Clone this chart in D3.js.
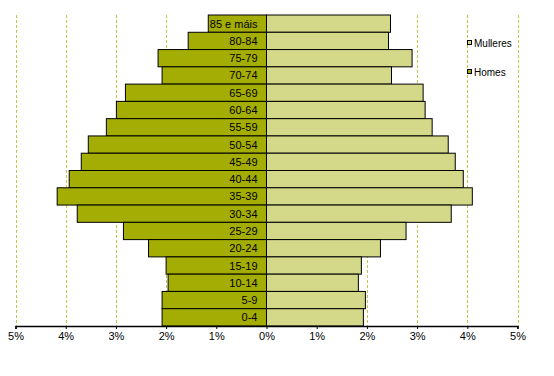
<!DOCTYPE html>
<html>
<head>
<meta charset="utf-8">
<script src="https://cdn.jsdelivr.net/npm/d3@7"></script>
<style>
  body { margin: 0; background: #fff; }
  svg { display: block; font-family: "Liberation Sans", Arial, sans-serif; }
</style>
</head>
<body>
<div id="chart"></div>
<script>
// grupos de idade, de arriba a abaixo
const ageGroups = ['85 e máis', '80-84', '75-79', '70-74', '65-69', '60-64', '55-59', '50-54',
  '45-49', '40-44', '35-39', '30-34', '25-29', '20-24', '15-19', '10-14', '5-9', '0-4'];

// porcentaxes
const homes = [1.16, 1.56, 2.16, 2.08, 2.81, 2.99, 3.19, 3.55, 3.69, 3.93, 4.17, 3.77, 2.85, 2.35, 2.00, 1.96, 2.08, 2.08];
const mulleres = [2.47, 2.43, 2.90, 2.49, 3.12, 3.16, 3.30, 3.62, 3.76, 3.92, 4.10, 3.68, 2.78, 2.27, 1.89, 1.83, 1.97, 1.93];

const tickValues = [-5, -4, -3, -2, -1, 0, 1, 2, 3, 4, 5];
const gridValues = [-5, -4, -3, -2, -1, 1, 2, 3, 4, 5];

const W = 554, H = 376;
const plotLeft = 15.5, plotRight = 517.5, plotTop = 15, plotBottom = 326;

const svg = d3.select('#chart').append('svg').attr('width', W).attr('height', H);

const x = d3.scaleLinear().domain([-5, 5]).range([plotLeft, plotRight]);
const y = d3.scaleBand().domain(ageGroups).range([plotTop, plotBottom]).padding(0);

// grella
svg.append('g')
  .selectAll('line')
  .data(gridValues)
  .enter()
  .append('line')
  .attr('x1', (d) => Math.round(x(d)) + 0.5)
  .attr('x2', (d) => Math.round(x(d)) + 0.5)
  .attr('y1', plotTop)
  .attr('y2', plotBottom)
  .attr('stroke', '#c3c84a')
  .attr('stroke-dasharray', '3,2');

// barras homes
svg.append('g')
  .selectAll('rect')
  .data(ageGroups)
  .enter()
  .append('rect')
  .attr('x', (d, i) => x(-homes[i]))
  .attr('y', (d) => y(d))
  .attr('width', (d, i) => x(0) - x(-homes[i]))
  .attr('height', y.bandwidth())
  .attr('fill', '#a4ad04')
  .attr('stroke', '#000')
  .attr('stroke-width', 1);

// barras mulleres
svg.append('g')
  .selectAll('rect')
  .data(ageGroups)
  .enter()
  .append('rect')
  .attr('x', x(0))
  .attr('y', (d) => y(d))
  .attr('width', (d, i) => x(mulleres[i]) - x(0))
  .attr('height', y.bandwidth())
  .attr('fill', '#d4d889')
  .attr('stroke', '#000')
  .attr('stroke-width', 1);

// etiquetas de idade
svg.append('g')
  .selectAll('text')
  .data(ageGroups)
  .enter()
  .append('text')
  .attr('x', x(0) - 9)
  .attr('y', (d) => y(d) + y.bandwidth() / 2 + 4)
  .attr('text-anchor', 'end')
  .attr('font-size', '11px')
  .attr('fill', '#000')
  .text((d) => d);

// eixo x
const axis = d3.axisBottom(x)
  .tickValues(tickValues)
  .tickSize(3)
  .tickFormat((d) => Math.abs(d) + '%');

const gx = svg.append('g')
  .attr('transform', `translate(0,${plotBottom})`)
  .call(axis);
gx.select('.domain').attr('stroke', '#000').attr('stroke-width', 1.5);
gx.selectAll('.tick line').attr('stroke', '#000');
gx.selectAll('.tick text')
  .attr('font-size', '11px')
  .attr('fill', '#000')
  .attr('font-family', '"Liberation Sans", Arial, sans-serif')
  .attr('dy', '0.6em')
  .attr('y', 7);

// lenda
const legendItems = [
  { name: 'Mulleres', color: '#d4d889', y: 43 },
  { name: 'Homes', color: '#a4ad04', y: 72 },
];
const lg = svg.append('g');
legendItems.forEach((it) => {
  lg.append('rect')
    .attr('x', 467.5)
    .attr('y', it.y - 2.5)
    .attr('width', 4)
    .attr('height', 4)
    .attr('fill', it.color)
    .attr('stroke', '#000');
  lg.append('text')
    .attr('x', 474)
    .attr('y', it.y + 3.5)
    .attr('font-size', '10px')
    .attr('fill', '#000')
    .text(it.name);
});
</script>
</body>
</html>
